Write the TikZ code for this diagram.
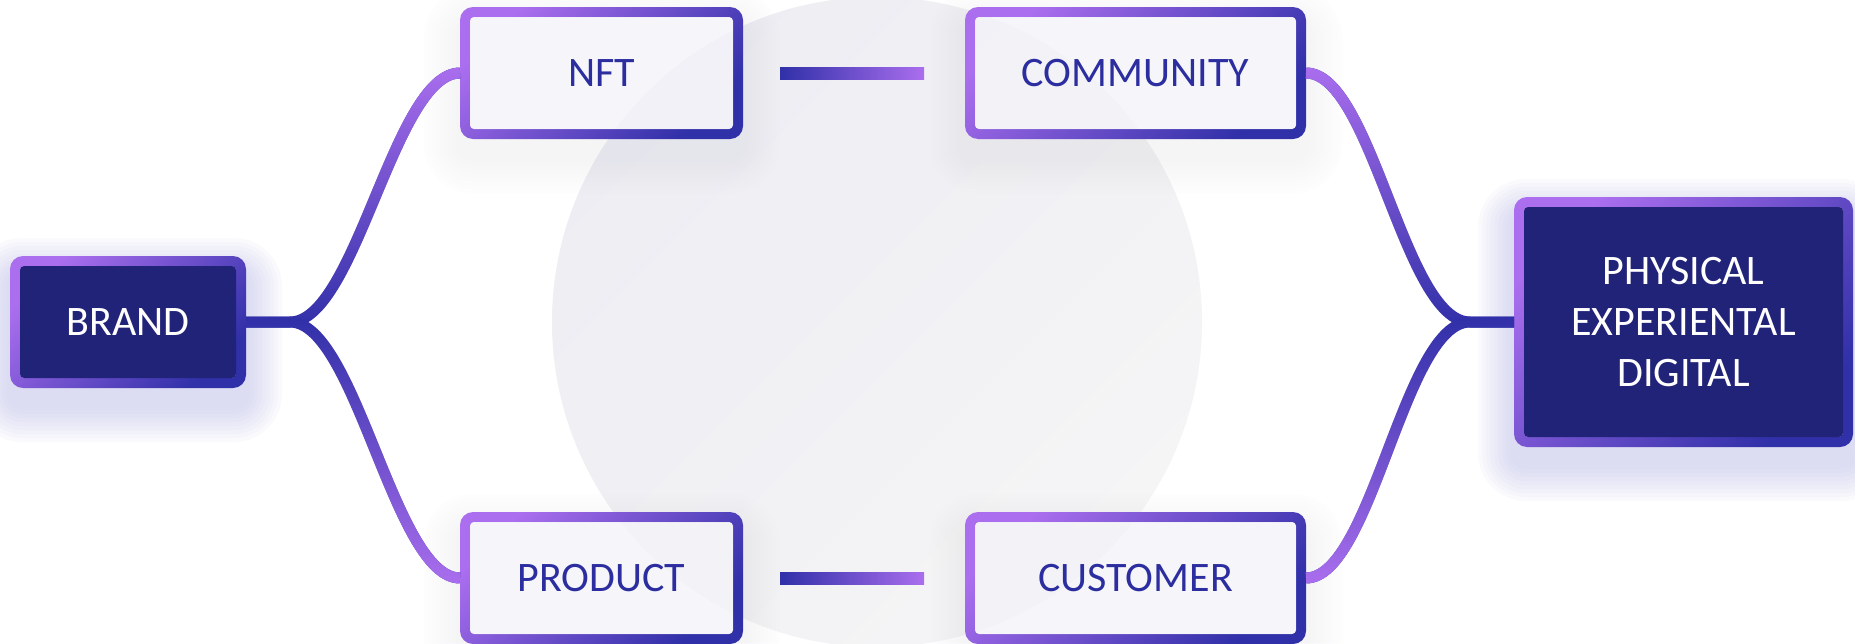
\documentclass[tikz,border=0pt]{standalone}
\usepackage{fontspec}
\usepackage{xcolor}
\usepackage{tikz}
\usetikzlibrary{backgrounds}
\usetikzlibrary{fadings}

\newfontfamily\cardfont{Carlito}
\definecolor{navy}{RGB}{33,35,120}
\definecolor{indigodk}{RGB}{48,48,168}
\definecolor{violetlt}{RGB}{170,110,238}
\definecolor{inktext}{RGB}{44,46,160}
\definecolor{lavfill}{RGB}{247,247,252}
\definecolor{halo}{RGB}{190,190,236}
\definecolor{disc}{RGB}{245,245,246}
\definecolor{disctop}{RGB}{237,237,243}

\tikzfading[name=fade up, top color=transparent!0, bottom color=transparent!100]
\tikzfading[name=fade down, top color=transparent!100, bottom color=transparent!0]

\begin{document}
\begin{tikzpicture}[x=1pt, y=-1pt]
  \tikzstyle{card}=[rectangle, inner sep=0pt, outer sep=0pt, minimum height=132, font=\cardfont\fontsize{42}{51}\selectfont, text=inktext] % light cards
  \tikzstyle{dark}=[card, text=white] % the two end cards are filled navy
  \tikzstyle{frame}=[rounded corners=13, even odd rule, top color=violetlt, bottom color=indigodk, shading angle=45] % violet to indigo rim
  \tikzstyle{link}=[line width=11, indigodk] % curved links start indigo ...
  \tikzstyle{to top}=[postaction={draw=violetlt, line width=11, path fading=fade up}] % ... and turn violet at the outer cards
  \tikzstyle{to bottom}=[postaction={draw=violetlt, line width=11, path fading=fade down}]
  \tikzstyle{bar}=[left color=indigodk, right color=violetlt] % short bars between the middle cards

  \useasboundingbox (0,0) rectangle (1855,643);

  \node[dark, minimum width=236] (brand) at (128,322) {BRAND};
  \node[card, minimum width=283] (nft) at (601.5,73) {NFT};
  \node[card, minimum width=341] (comm) at (1135.5,73) {COMMUNITY};
  \node[card, minimum width=283] (prod) at (601.5,578) {PRODUCT};
  \node[card, minimum width=341] (cust) at (1135.5,578) {CUSTOMER};
  \node[dark, minimum width=339, minimum height=250, align=center] (phys) at (1683.5,322) {PHYSICAL\\EXPERIENTAL\\DIGITAL};

  \begin{scope}[on background layer]
    \fill[white] (0,0) rectangle (1855,643);
    \shade[top color=disctop, bottom color=disc, shading angle=45] (877,322) circle (325);
    % soft halo under every card
    \foreach \n/\s in {brand/.07, phys/.07, nft/.015, comm/.015, prod/.015, cust/.015}
      \foreach \i in {1,...,9}
        \fill[halo, fill opacity=\s, rounded corners=12+4*\i]
          ([shift={(-4*\i,-4*\i+18)}]\n.north west) rectangle ([shift={(4*\i,4*\i+18)}]\n.south east);
    % rim, then the face inside it
    \foreach \n/\f/\o in {brand/navy/1, phys/navy/1, nft/lavfill/.7, comm/lavfill/.7, prod/lavfill/.7, cust/lavfill/.7} {
      \shade[frame] (\n.north west) rectangle (\n.south east)
        [rounded corners=4] ([shift={(10,10)}]\n.north west) rectangle ([shift={(-10,-10)}]\n.south east);
      \fill[\f, fill opacity=\o, rounded corners=4]
        ([shift={(10,10)}]\n.north west) rectangle ([shift={(-10,-10)}]\n.south east);
    }
  \end{scope}

  \draw[link, to top] (brand.east) -- ++(44,0) .. controls +(66,0) and +(-66,0) .. (nft.west);
  \draw[link, to bottom] (brand.east) -- ++(44,0) .. controls +(66,0) and +(-66,0) .. (prod.west);
  \draw[link, to top] (phys.west) -- ++(-44,0) .. controls +(-66,0) and +(66,0) .. (comm.east);
  \draw[link, to bottom] (phys.west) -- ++(-44,0) .. controls +(-66,0) and +(66,0) .. (cust.east);

  \shade[bar] ([shift={(37,-6)}]nft.east) rectangle ([shift={(-41,6)}]comm.west);
  \shade[bar] ([shift={(37,-6)}]prod.east) rectangle ([shift={(-41,6)}]cust.west);
\end{tikzpicture}
\end{document}
